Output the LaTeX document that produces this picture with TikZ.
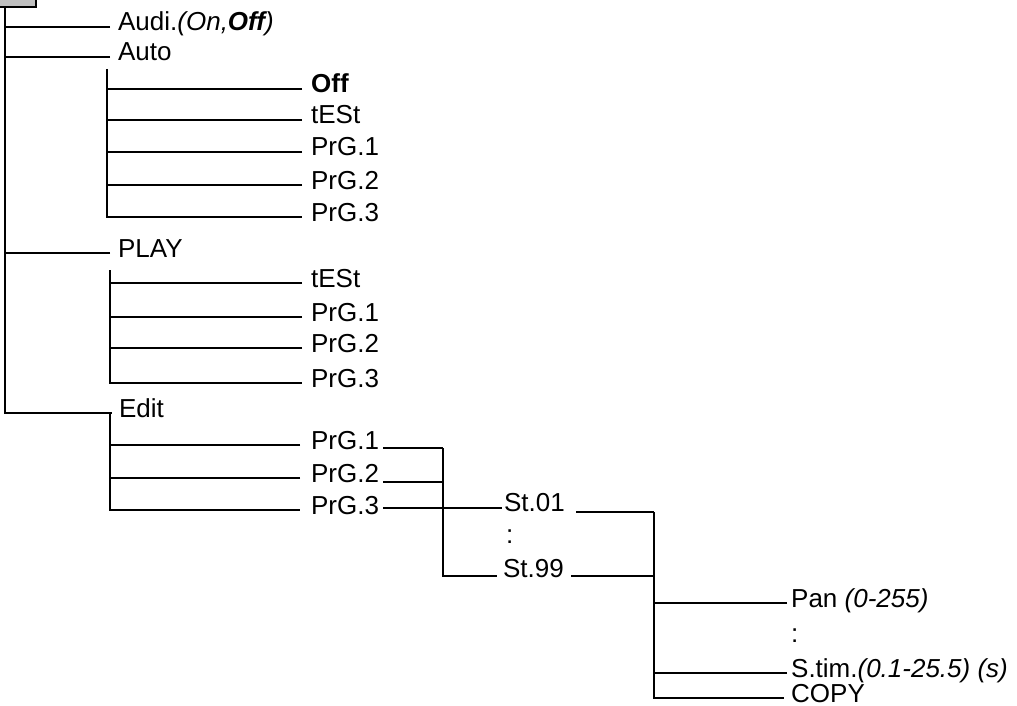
\documentclass[tikz,border=0pt]{standalone}
\usepackage{fontspec}
\setmainfont{Liberation Sans}
\begin{document}
\begin{tikzpicture}[x=1pt,y=-1pt,line width=2.3pt,
  lbl/.style={anchor=base west,inner sep=0pt,font=\fontsize{26}{30}\selectfont},
  rootbox/.style={draw,fill=black!25,minimum width=60pt,minimum height=24pt,anchor=south east,inner sep=0pt}]
\useasboundingbox (0,0) rectangle (1017,706);
\node(ROOT)[rootbox] at (37,8){};
\coordinate (M) at (5,8);
\node(AUD)[lbl] at (117,31){Audi.\textit{(On,\textbf{Off})}};
\node(AUT)[lbl] at (117,61){Auto};
\node(PLY)[lbl] at (117,257){PLAY};
\node(EDT)[lbl] at (118,417){Edit};
\foreach \n in {AUD,AUT,PLY}
  \draw ([shift={(-7,-4)}]\n.base west) coordinate (e) -- (e -| M);
\draw (M) |- ([shift={(-6,-4)}]EDT.base west);
\coordinate (AS) at (107,69);
\node(AOF)[lbl] at (310,93){\textbf{Off}};
\node(ATS)[lbl] at (310,124){tESt};
\node(AP1)[lbl] at (310,156){PrG.1};
\node(AP2)[lbl] at (310,189){PrG.2};
\node(AP3)[lbl] at (310,221){PrG.3};
\foreach \n in {AOF,ATS,AP1,AP2}
  \draw ([shift={(-8,-4)}]\n.base west) coordinate (e) -- (e -| AS);
\draw (AS) |- ([shift={(-8,-4)}]AP3.base west);
\coordinate (PS) at (110,270);
\node(PTS)[lbl] at (310,287){tESt};
\node(PP1)[lbl] at (310,321){PrG.1};
\node(PP2)[lbl] at (310,352){PrG.2};
\node(PP3)[lbl] at (310,387){PrG.3};
\foreach \n in {PTS,PP1,PP2}
  \draw ([shift={(-8,-4)}]\n.base west) coordinate (e) -- (e -| PS);
\draw (PS) |- ([shift={(-8,-4)}]PP3.base west);
\coordinate (ES) at (110,413);
\node(EP1)[lbl] at (310,449){PrG.1};
\node(EP2)[lbl] at (310,482){PrG.2};
\node(EP3)[lbl] at (310,514){PrG.3};
\foreach \n in {EP1,EP2}
  \draw ([shift={(-10,-4)}]\n.base west) coordinate (e) -- (e -| ES);
\draw (ES) |- ([shift={(-10,-4)}]EP3.base west);
\coordinate (XS) at (443,448);
\node(ST1)[lbl] at (503,511){St.01};
\node(SDT)[lbl] at (505,543){:};
\node(ST9)[lbl] at (502,577){St.99};
\draw ([shift={(3,-1)}]EP1.base east) coordinate (e) -- (e -| XS);
\draw ([shift={(3,0)}]EP2.base east) coordinate (e) -- (e -| XS);
\draw ([shift={(3,-6)}]EP3.base east) -- ([shift={(-1,-3)}]ST1.base west);
\draw (XS) |- ([shift={(-5,-1)}]ST9.base west);
\coordinate (SS) at (654,512);
\node(PAN)[lbl] at (790,607){Pan \textit{(0-255)}};
\node(PDT)[lbl] at (790,642){:};
\node(STM)[lbl] at (790,677){S.tim.\textit{(0.1-25.5) (s)}};
\node(CPY)[lbl] at (790,702){COPY};
\draw ([shift={(10,1)}]ST1.base east) coordinate (e) -- (e -| SS);
\draw ([shift={(6,-1)}]ST9.base east) coordinate (e) -- (e -| SS);
\foreach \n in {PAN,STM}
  \draw ([shift={(-3,-4)}]\n.base west) coordinate (e) -- (e -| SS);
\draw (SS) |- ([shift={(-6,-4)}]CPY.base west);
\end{tikzpicture}
\end{document}
